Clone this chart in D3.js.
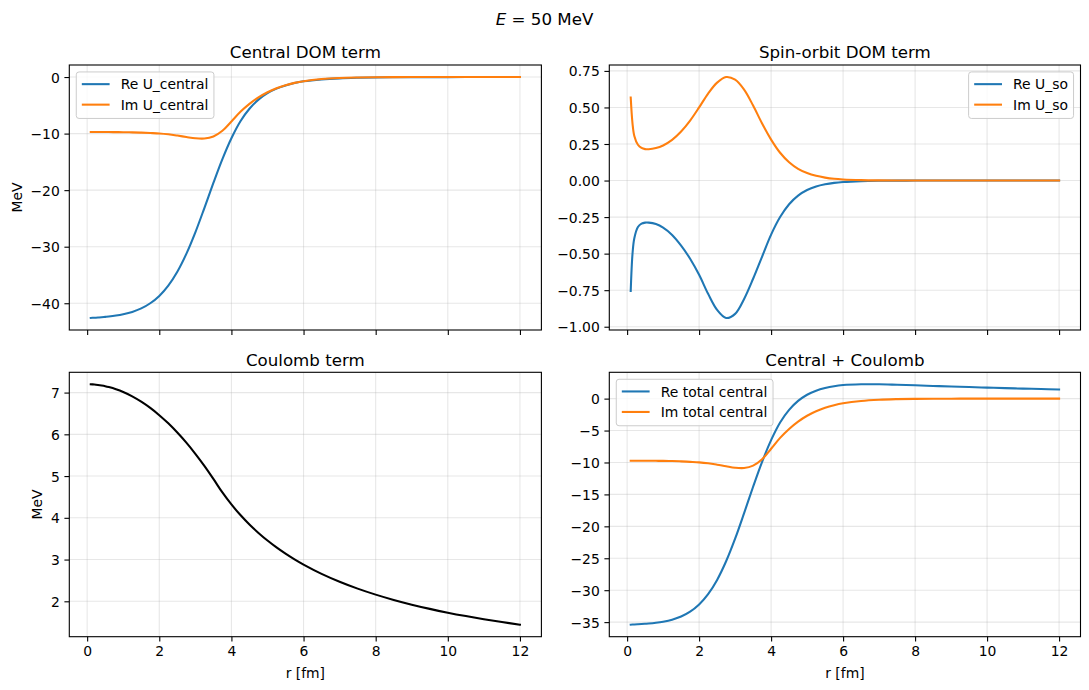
<!DOCTYPE html>
<html><head><meta charset="utf-8">
<script src="https://cdn.jsdelivr.net/npm/d3@7"></script>
<style>
body{margin:0;background:#fff;}
svg{display:block;font-family:"DejaVu Sans",sans-serif;}
</style></head><body>
<svg id="chart" width="1089" height="690"></svg>
<script>
// ---- data ----
const r = [0.1, 0.15, 0.2, 0.3, 0.4, 0.5, 0.6, 0.8, 1.0, 1.25, 1.5, 1.75, 2.0, 2.25, 2.5, 2.75, 3.0, 3.25, 3.5, 3.75, 4.0, 4.25, 4.5, 4.75, 5.0, 5.25, 5.5, 5.75, 6.0, 6.5, 7.0, 7.5, 8.0, 8.5, 9.0, 9.5, 10.0, 10.5, 11.0, 11.5, 12.0];

const reCentral = [-42.6, -42.57, -42.56, -42.52, -42.47, -42.41, -42.35, -42.18, -41.94, -41.53, -40.91, -40.0, -38.7, -36.88, -34.43, -31.27, -27.46, -23.17, -18.73, -14.51, -10.82, -7.81, -5.6, -4.0, -2.85, -2.05, -1.48, -1.06, -0.76, -0.42, -0.23, -0.13, -0.07, -0.04, -0.022, -0.012, -0.007, -0.004, -0.002, -0.001, -0.001];
const imCentral = [-9.72, -9.72, -9.72, -9.72, -9.72, -9.72, -9.73, -9.74, -9.75, -9.78, -9.83, -9.9, -9.98, -10.13, -10.35, -10.6, -10.83, -10.87, -10.5, -9.5, -7.85, -6.15, -4.75, -3.6, -2.68, -1.97, -1.43, -1.03, -0.73, -0.36, -0.17, -0.08, -0.035, -0.016, -0.007, -0.003, -0.001, 0, 0, 0, 0];

const reSO = [-0.755, -0.5, -0.395, -0.318, -0.295, -0.288, -0.288, -0.298, -0.322, -0.372, -0.445, -0.535, -0.645, -0.775, -0.885, -0.94, -0.912, -0.81, -0.672, -0.52, -0.37, -0.25, -0.162, -0.103, -0.065, -0.041, -0.026, -0.016, -0.01, -0.004, -0.0015, -0.0006, -0.0002, 0, 0, 0, 0, 0, 0, 0, 0];
const imSO = [0.568, 0.39, 0.305, 0.245, 0.223, 0.215, 0.214, 0.222, 0.24, 0.278, 0.335, 0.41, 0.5, 0.595, 0.67, 0.708, 0.69, 0.622, 0.513, 0.39, 0.28, 0.19, 0.125, 0.08, 0.051, 0.032, 0.02, 0.012, 0.0075, 0.003, 0.0011, 0.0004, 0.0001, 0, 0, 0, 0, 0, 0, 0, 0];

const coulomb = [7.198, 7.196, 7.193, 7.183, 7.17, 7.154, 7.133, 7.081, 7.015, 6.911, 6.783, 6.633, 6.459, 6.263, 6.042, 5.8, 5.533, 5.244, 4.932, 4.608, 4.32, 4.066, 3.84, 3.638, 3.456, 3.291, 3.142, 3.005, 2.88, 2.658, 2.469, 2.304, 2.16, 2.033, 1.92, 1.819, 1.728, 1.646, 1.571, 1.503, 1.44];

const reTotal = [-35.4, -35.37, -35.37, -35.34, -35.3, -35.26, -35.22, -35.1, -34.93, -34.62, -34.13, -33.37, -32.24, -30.62, -28.39, -25.47, -21.93, -17.93, -13.8, -9.9, -6.5, -3.74, -1.76, -0.36, 0.61, 1.24, 1.66, 1.95, 2.12, 2.24, 2.24, 2.17, 2.09, 1.99, 1.9, 1.81, 1.72, 1.64, 1.57, 1.5, 1.44];
const imTotal = [-9.72, -9.72, -9.72, -9.72, -9.72, -9.72, -9.73, -9.74, -9.75, -9.78, -9.83, -9.9, -9.98, -10.13, -10.35, -10.6, -10.83, -10.87, -10.5, -9.5, -7.85, -6.15, -4.75, -3.6, -2.68, -1.97, -1.43, -1.03, -0.73, -0.36, -0.17, -0.08, -0.035, -0.016, -0.007, -0.003, -0.001, 0, 0, 0, 0];

const xTicks = [0, 2, 4, 6, 8, 10, 12];
const yTicksCentral = [0, -10, -20, -30, -40];
const yTicksSO = [0.75, 0.5, 0.25, 0, -0.25, -0.5, -0.75, -1.0];
const yTicksCoulomb = [2, 3, 4, 5, 6, 7];
const yTicksTotal = [0, -5, -10, -15, -20, -25, -30, -35];

const titles = ["Central DOM term", "Spin-orbit DOM term", "Coulomb term", "Central + Coulomb"];
const suptitle = "50 MeV";

// ---- drawing ----
const svg = d3.select("#chart");
const FS = 13.9, TFS = 16.67;
const C0 = "#1f77b4", C1 = "#ff7f0e";
const padDomain = ext => { const s = ext[1] - ext[0]; return [ext[0] - 0.05 * s, ext[1] + 0.05 * s]; };

const colL = [69.3, 541.4], colR = [609.3, 1080.5];
const rowT = [65, 330], rowB = [372.3, 636.7];

function panel(p) {
  const [x0, x1] = p.xr, [y0, y1] = p.yr;
  const xs = d3.scaleLinear().domain(padDomain(d3.extent(r))).range([x0, x1]);
  const allY = p.series.flatMap(s => s.values);
  const ys = d3.scaleLinear().domain(padDomain(d3.extent(allY))).range([y1, y0]);
  const g = svg.append("g");

  // grid
  const grid = g.append("g").attr("stroke", "#b0b0b0").attr("stroke-opacity", 0.3).attr("stroke-width", 1.1);
  grid.selectAll("line.vx").data(xTicks).join("line")
    .attr("x1", d => xs(d)).attr("x2", d => xs(d)).attr("y1", y0).attr("y2", y1);
  grid.selectAll("line.hy").data(p.yTicks).join("line")
    .attr("x1", x0).attr("x2", x1).attr("y1", d => ys(d)).attr("y2", d => ys(d));

  // lines
  const line = d3.line().x((d, i) => xs(r[i])).y(d => ys(d)).curve(d3.curveCatmullRom.alpha(0.5));
  p.series.forEach(s => {
    g.append("path").attr("d", line(s.values)).attr("fill", "none")
      .attr("stroke", s.color).attr("stroke-width", 2.08).attr("stroke-linejoin", "round").attr("stroke-linecap", "square");
  });

  // axes
  const xa = g.append("g").attr("transform", `translate(0,${y1})`)
    .call(d3.axisBottom(xs).tickValues(xTicks).tickSize(4.9).tickPadding(4.6)
      .tickFormat(p.xLabels ? d3.format("d") : () => ""));
  const ya = g.append("g").attr("transform", `translate(${x0},0)`)
    .call(d3.axisLeft(ys).tickValues(p.yTicks).tickSize(4.9).tickPadding(4.6).tickFormat(p.yFmt));
  [xa, ya].forEach(a => {
    a.select(".domain").remove();
    a.attr("font-family", null).attr("font-size", FS);
    a.selectAll("line").attr("stroke", "#000").attr("stroke-width", 1.1);
    a.selectAll("text").attr("fill", "#000");
  });
  ya.selectAll("text").attr("dy", "0.36em");

  // spines
  g.append("rect").attr("x", x0).attr("y", y0).attr("width", x1 - x0).attr("height", y1 - y0)
    .attr("fill", "none").attr("stroke", "#000").attr("stroke-width", 1.1);

  // title
  g.append("text").attr("x", (x0 + x1) / 2).attr("y", y0 - 6.8).attr("text-anchor", "middle")
    .attr("font-size", TFS).attr("fill", "#000").text(p.title);

  // labels
  if (p.yLabel) {
    const bb = ya.node().getBBox();
    const lx = x0 + bb.x - 5.56 - 3.3;
    g.append("text").attr("transform", `translate(${lx},${(y0 + y1) / 2}) rotate(-90)`)
      .attr("text-anchor", "middle").attr("font-size", FS).attr("fill", "#000").text(p.yLabel);
  }
  if (p.xLabels) {
    g.append("text").attr("x", (x0 + x1) / 2).attr("y", y1 + 41.3).attr("text-anchor", "middle")
      .attr("font-size", FS).attr("fill", "#000").text("r [fm]");
  }

  // legend
  if (p.legend) {
    const items = p.series;
    const lg = g.append("g");
    const rect = lg.append("rect");
    const texts = items.map(s => lg.append("text").attr("font-size", FS).attr("fill", "#000").text(s.label));
    const tw = d3.max(texts, t => t.node().getComputedTextLength());
    const bw = 5.56 * 2 + 27.8 + 11.1 + tw, bh = 46.5;
    const left = p.legend === "ul" ? x0 + 6.95 : x1 - 6.95 - bw;
    const top = y0 + 6.95;
    rect.attr("x", left).attr("y", top).attr("width", bw).attr("height", bh).attr("rx", 2.8)
      .attr("fill", "#fff").attr("fill-opacity", 0.8).attr("stroke", "#cccccc").attr("stroke-width", 1);
    items.forEach((s, i) => {
      const ly = top + 12.2 + i * 20.5;
      lg.append("line").attr("x1", left + 5.56).attr("x2", left + 5.56 + 27.8).attr("y1", ly).attr("y2", ly)
        .attr("stroke", s.color).attr("stroke-width", 2.08);
      texts[i].attr("x", left + 5.56 + 27.8 + 11.1).attr("y", ly + 5.2);
    });
  }
}

const fInt = d3.format("d");
const f2 = d3.format(".2f");

panel({ xr: colL, yr: rowT, title: titles[0], yTicks: yTicksCentral, yFmt: fInt, yLabel: "MeV", xLabels: false, legend: "ul",
  series: [{ values: reCentral, color: C0, label: "Re U_central" }, { values: imCentral, color: C1, label: "Im U_central" }] });
panel({ xr: colR, yr: rowT, title: titles[1], yTicks: yTicksSO, yFmt: f2, yLabel: null, xLabels: false, legend: "ur",
  series: [{ values: reSO, color: C0, label: "Re U_so" }, { values: imSO, color: C1, label: "Im U_so" }] });
panel({ xr: colL, yr: rowB, title: titles[2], yTicks: yTicksCoulomb, yFmt: fInt, yLabel: "MeV", xLabels: true, legend: null,
  series: [{ values: coulomb, color: "#000", label: "Coulomb" }] });
panel({ xr: colR, yr: rowB, title: titles[3], yTicks: yTicksTotal, yFmt: fInt, yLabel: null, xLabels: true, legend: "ul",
  series: [{ values: reTotal, color: C0, label: "Re total central" }, { values: imTotal, color: C1, label: "Im total central" }] });

// suptitle
const st = svg.append("text").attr("x", 544.5).attr("y", 25).attr("text-anchor", "middle")
  .attr("font-size", TFS).attr("fill", "#000");
st.append("tspan").attr("font-style", "italic").text("E");
st.append("tspan").text(" = " + suptitle);
</script>
</body></html>
